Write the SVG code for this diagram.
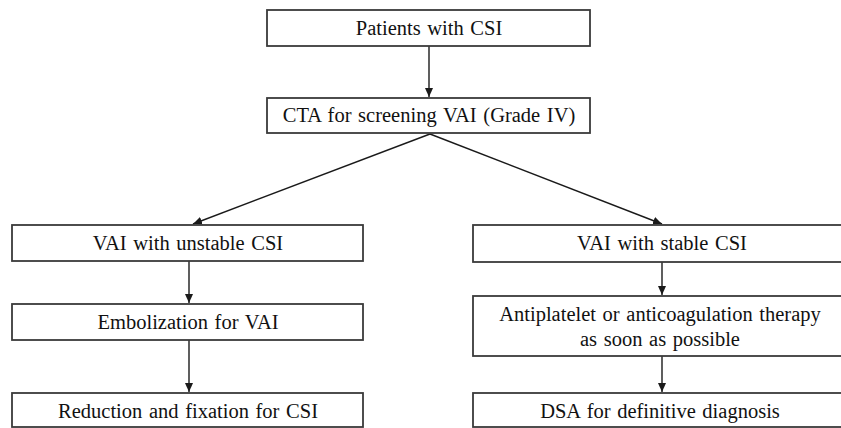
<svg xmlns="http://www.w3.org/2000/svg" width="841" height="428" viewBox="0 0 841 428">
<defs>
<marker id="ah" markerWidth="10" markerHeight="10" refX="9" refY="4" orient="auto" markerUnits="userSpaceOnUse">
<path d="M0,0 L9,4 L0,8 Z" fill="#1a1a1a"/>
</marker>
<style>
.box{fill:#fff;stroke:#3a3a3a;stroke-width:1.8}
.t{font-family:"Liberation Serif","Times New Roman",serif;font-size:20.5px;fill:#111;text-anchor:middle;word-spacing:1.5px}
.c{stroke:#1a1a1a;stroke-width:1.4;fill:none;marker-end:url(#ah)}
</style>
</defs>
<rect width="841" height="428" fill="#fff"/>
<g id="connectors">
<line class="c" x1="429" y1="46" x2="429" y2="97"/>
<line class="c" x1="430" y1="134" x2="193" y2="224"/>
<line class="c" x1="430" y1="134" x2="662" y2="224"/>
<line class="c" x1="189" y1="261" x2="189" y2="303"/>
<line class="c" x1="189" y1="340" x2="189" y2="392"/>
<line class="c" x1="662" y1="262" x2="662" y2="295"/>
<line class="c" x1="662" y1="356" x2="662" y2="392"/>
</g>
<g id="n1"><rect class="box" x="267" y="10" width="323" height="36"/><text class="t" x="429" y="35">Patients with CSI</text></g>
<g id="n2"><rect class="box" x="267" y="98" width="323" height="35"/><text class="t" x="429" y="122">CTA for screening VAI (Grade IV)</text></g>
<g id="n3"><rect class="box" x="12" y="225" width="351" height="36"/><text class="t" x="188" y="250">VAI with unstable CSI</text></g>
<g id="n4"><rect class="box" x="12" y="304" width="351" height="36"/><text class="t" x="188" y="329">Embolization for VAI</text></g>
<g id="n5"><rect class="box" x="12" y="393" width="351" height="34"/><text class="t" x="188" y="418">Reduction and fixation for CSI</text></g>
<g id="n6"><rect class="box" x="473" y="225" width="376" height="37"/><text class="t" x="662" y="250">VAI with stable CSI</text></g>
<g id="n7"><rect class="box" x="473" y="296" width="376" height="60"/><text class="t" x="660" y="321">Antiplatelet  or anticoagulation  therapy</text><text class="t" x="660" y="346">as soon as possible</text></g>
<g id="n8"><rect class="box" x="473" y="393" width="376" height="34"/><text class="t" x="660" y="418">DSA for definitive diagnosis</text></g>
</svg>
